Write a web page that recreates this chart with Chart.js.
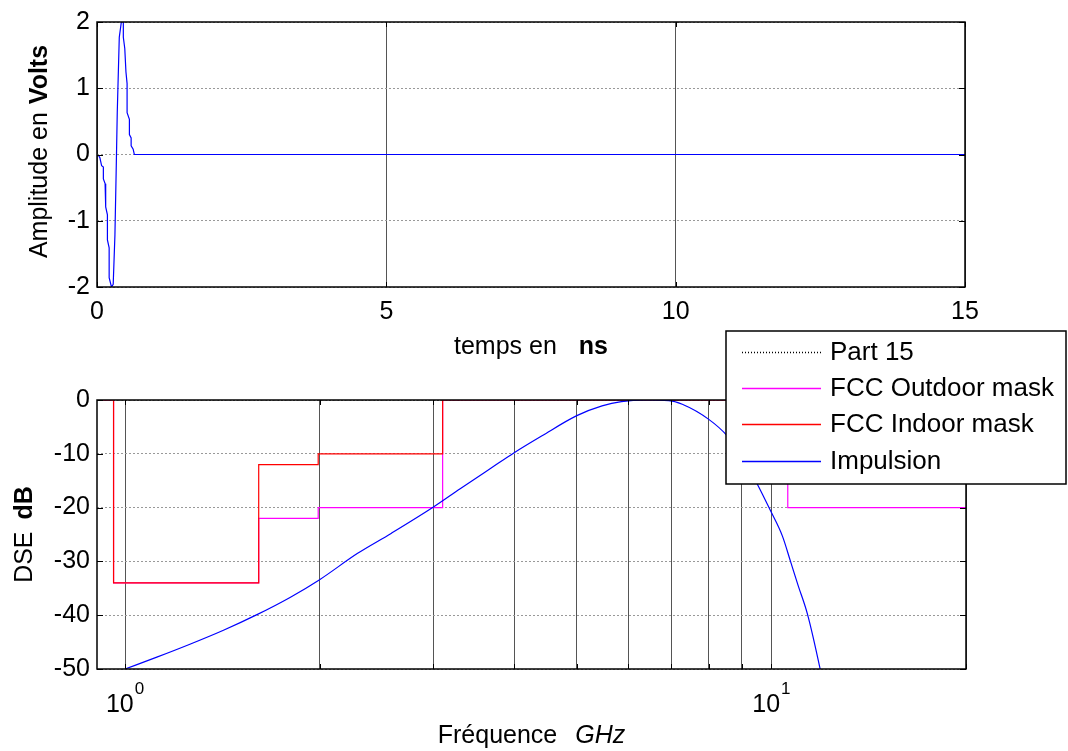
<!DOCTYPE html>
<html><head><meta charset="utf-8">
<script src="https://cdn.jsdelivr.net/npm/chart.js@4.4.1/dist/chart.umd.min.js"></script>
<style>
html,body{margin:0;padding:0;background:#fff;}
#wrap{position:relative;width:1068px;height:751px;overflow:hidden;background:#fff;}
#c1{position:absolute;left:0;top:0;}
#c2{position:absolute;left:0;top:320px;}
</style></head><body>
<div id="wrap"><canvas id="c1" width="1068" height="375"></canvas><canvas id="c2" width="1068" height="431"></canvas></div>
<script>
// ---------- data: time-domain pulse ----------
const timeNs     = [0.03, 0.05, 0.08, 0.11, 0.11, 0.14, 0.15, 0.18, 0.18, 0.21, 0.21, 0.25, 0.28, 0.31, 0.33, 0.35, 0.385, 0.43, 0.455, 0.455, 0.48, 0.50, 0.52, 0.52, 0.56, 0.56, 0.59, 0.59, 0.625, 0.645, 15];
const amplitudeV = [-0.02, -0.05, -0.17, -0.19, -0.37, -0.44, -0.79, -0.91, -1.29, -1.41, -1.86, -2.00, -1.96, -1.21, -0.31, 0.63, 1.77, 2.06, 2.06, 1.77, 1.60, 1.25, 1.07, 0.63, 0.53, 0.30, 0.25, 0.13, 0.08, 0.00, 0.00];
const timeTicks  = [0, 5, 10, 15];
const voltTicks  = [-2, -1, 0, 1, 2];

// ---------- data: spectrum and FCC masks ----------
const freqGHz   = [1.00, 1.12, 1.26, 1.42, 1.60, 1.80, 2.00, 2.29, 2.58, 3.00, 3.30, 3.69, 4.00, 4.41, 5.00, 5.47, 5.86, 6.40, 6.94, 7.28, 8.00, 8.55, 9.00, 9.45, 9.97, 10.40, 10.71, 11.00, 11.37, 11.89, 12.10];
const impulseDb = [-50.0, -47.8, -45.4, -42.8, -39.9, -36.7, -33.4, -28.5, -24.8, -19.9, -16.5, -12.6, -9.8, -6.7, -2.9, -1.1, -0.3, 0.0, -0.1, -0.8, -3.6, -6.7, -10.4, -15.0, -20.6, -25.3, -30.1, -34.5, -39.8, -49.9, -54.5];
const maskEdgesGHz = [0.90, 0.96, 1.61, 1.99, 3.10, 10.60, 20.30];
const part15Db     = [0, 0, 0, 0, 0, 0, 0];
const outdoorDb    = [0, -34, -22, -20, 0, -20, -20];
const indoorDb     = [0, -34, -12, -10, 0, -10, -10];
const freqGridGHz  = [1, 2, 3, 4, 5, 6, 7, 8, 9, 10, 20];
const freqExponentLabels = {1: '0', 10: '1'};
const dbTicks      = [0, -10, -20, -30, -40, -50];
const seriesNames  = ['Part 15', 'FCC Outdoor mask', 'FCC Indoor mask', 'Impulsion'];
const seriesColors = ['#000000', '#ff00ff', '#ff0000', '#0000ff'];

const FONT = '"Liberation Sans", Arial, sans-serif';
Chart.defaults.font.family = FONT;
Chart.defaults.color = '#000';

const pts = (xs, ys) => xs.map((x, i) => ({x: x, y: ys[i]}));
const setTicks = arr => (s => { s.ticks = arr.map(v => ({value: v})); });

function drawParts(ctx, parts, gap, cx, cy, rotated) {
  ctx.save();
  let widths = parts.map(p => { ctx.font = p.f + ' 25px ' + FONT; return ctx.measureText(p.t).width; });
  const total = widths.reduce((a, b) => a + b, 0) + gap * (parts.length - 1);
  ctx.translate(cx, cy);
  if (rotated) ctx.rotate(-Math.PI / 2);
  ctx.textBaseline = 'alphabetic';
  ctx.textAlign = 'left';
  ctx.fillStyle = '#000';
  let x = -total / 2;
  parts.forEach((p, i) => { ctx.font = p.f + ' 25px ' + FONT; ctx.fillText(p.t, x, 0); x += widths[i] + gap; });
  ctx.restore();
}

const framePlugin = {
  id: 'frame',
  afterDatasetsDraw(chart) {
    const {ctx, chartArea: a} = chart;
    const xs = chart.scales.x, ys = chart.scales.y;
    ctx.save();
    ctx.strokeStyle = '#000';
    ctx.lineWidth = 1;
    ctx.beginPath();
    xs.ticks.forEach(t => {
      const p = Math.round(xs.getPixelForValue(t.value)) + 0.5;
      ctx.moveTo(p, a.bottom); ctx.lineTo(p, a.bottom - 5);
      ctx.moveTo(p, a.top); ctx.lineTo(p, a.top + 5);
    });
    ys.ticks.forEach(t => {
      const p = Math.round(ys.getPixelForValue(t.value)) + 0.5;
      ctx.moveTo(a.left, p); ctx.lineTo(a.left + 6, p);
      ctx.moveTo(a.right, p); ctx.lineTo(a.right - 6, p);
    });
    ctx.stroke();
    ctx.lineWidth = 1.5;
    ctx.strokeRect(a.left, a.top, a.right - a.left, a.bottom - a.top);
    ctx.restore();
  }
};

const titles1 = {
  id: 'titles1',
  afterDraw(chart) {
    const {ctx, chartArea: a} = chart;
    drawParts(ctx, [{t: 'temps en', f: 'normal'}, {t: 'ns', f: 'bold'}], 22, (a.left + a.right) / 2, 354, false);
    drawParts(ctx, [{t: 'Amplitude en', f: 'normal'}, {t: 'Volts', f: 'bold'}], 8, 46.5, (a.top + a.bottom) / 2 - 3, true);
  }
};

const titles2 = {
  id: 'titles2',
  afterDraw(chart) {
    const {ctx, chartArea: a} = chart;
    drawParts(ctx, [{t: 'Fréquence', f: 'normal'}, {t: 'GHz', f: 'italic'}], 18, (a.left + a.right) / 2, 423, false);
    drawParts(ctx, [{t: 'DSE', f: 'normal'}, {t: 'dB', f: 'bold'}], 12, 31.5, (a.top + a.bottom) / 2, true);
    // log tick labels 10^n
    const xs = chart.scales.x;
    ctx.save();
    ctx.fillStyle = '#000';
    ctx.textBaseline = 'alphabetic';
    ctx.textAlign = 'left';
    freqGridGHz.forEach(v => {
      const e = freqExponentLabels[v];
      if (e === undefined) return;
      ctx.font = '25px ' + FONT;
      const w1 = ctx.measureText('10').width;
      ctx.font = '17px ' + FONT;
      const w2 = ctx.measureText(e).width;
      const x0 = xs.getPixelForValue(v) - (w1 + 1 + w2) / 2;
      ctx.font = '25px ' + FONT;
      ctx.fillText('10', x0, 392);
      ctx.font = '17px ' + FONT;
      ctx.fillText(e, x0 + w1 + 1, 374);
    });
    ctx.restore();
    // legend
    const L = 726, T = 11, R = 1066, B = 164;
    ctx.save();
    ctx.fillStyle = '#fff';
    ctx.fillRect(L, T, R - L, B - T);
    ctx.strokeStyle = '#000';
    ctx.lineWidth = 1.5;
    ctx.strokeRect(L, T, R - L, B - T);
    const rows = [31.7, 68.3, 104.3, 140.7];
    chart.data.datasets.forEach((ds, i) => {
      const y = Math.round(rows[i]) + 0.5;
      ctx.beginPath();
      ctx.strokeStyle = ds.borderColor;
      ctx.lineWidth = 1.3;
      ctx.setLineDash(ds.borderDash || []);
      ctx.moveTo(742, y); ctx.lineTo(821, y);
      ctx.stroke();
      ctx.setLineDash([]);
      ctx.fillStyle = '#000';
      ctx.font = '26px ' + FONT;
      ctx.textBaseline = 'middle';
      ctx.textAlign = 'left';
      ctx.fillText(ds.label, 830, rows[i] + 1);
    });
    ctx.restore();
  }
};

const tickFont = {family: FONT, size: 25};

new Chart(document.getElementById('c1'), {
  type: 'line',
  data: {
    datasets: [{
      label: 'Impulsion',
      data: pts(timeNs, amplitudeV),
      borderColor: '#0000ff',
      borderWidth: 1.2,
      pointRadius: 0,
      tension: 0,
      fill: false
    }]
  },
  options: {
    responsive: false, animation: false, devicePixelRatio: 1,
    layout: {padding: {top: 18, right: 103, left: 0, bottom: 0}},
    plugins: {legend: {display: false}, tooltip: {enabled: false}},
    scales: {
      x: {
        type: 'linear', min: 0, max: 15,
        afterBuildTicks: setTicks(timeTicks),
        afterFit: s => { s.height = 88; },
        ticks: {font: tickFont, color: '#000', padding: 10, autoSkip: false, maxRotation: 0},
        grid: {color: '#555', lineWidth: 1, drawTicks: false},
        border: {display: false}
      },
      y: {
        type: 'linear', min: -2, max: 2,
        afterBuildTicks: setTicks(voltTicks),
        afterFit: s => { s.width = 97; },
        ticks: {font: tickFont, color: '#000', padding: 7, autoSkip: false},
        grid: {color: '#999', lineWidth: 1, drawTicks: false},
        border: {display: false, dash: [2, 2]}
      }
    }
  },
  plugins: [framePlugin, titles1]
});

new Chart(document.getElementById('c2'), {
  type: 'line',
  data: {
    datasets: [
      {label: seriesNames[0], data: pts(maskEdgesGHz, part15Db), borderColor: seriesColors[0], borderDash: [1, 2], borderWidth: 1, stepped: 'before', pointRadius: 0, fill: false, order: 3},
      {label: seriesNames[1], data: pts(maskEdgesGHz, outdoorDb), borderColor: seriesColors[1], borderWidth: 1.2, stepped: 'before', pointRadius: 0, fill: false, order: 2},
      {label: seriesNames[2], data: pts(maskEdgesGHz, indoorDb), borderColor: seriesColors[2], borderWidth: 1.2, stepped: 'before', pointRadius: 0, fill: false, order: 1},
      {label: seriesNames[3], data: pts(freqGHz, impulseDb), borderColor: seriesColors[3], borderWidth: 1.2, cubicInterpolationMode: 'monotone', pointRadius: 0, fill: false, order: 0}
    ]
  },
  options: {
    responsive: false, animation: false, devicePixelRatio: 1,
    layout: {padding: {top: 80, right: 102, left: 0, bottom: 0}},
    plugins: {legend: {display: false}, tooltip: {enabled: false}},
    scales: {
      x: {
        type: 'logarithmic', min: 0.905, max: 20,
        afterBuildTicks: setTicks(freqGridGHz),
        afterFit: s => { s.height = 82; },
        ticks: {font: tickFont, autoSkip: false, maxRotation: 0, callback: () => ''},
        grid: {color: '#555', lineWidth: 1, drawTicks: false},
        border: {display: false}
      },
      y: {
        type: 'linear', min: -50, max: 0,
        afterBuildTicks: setTicks(dbTicks),
        afterFit: s => { s.width = 97; },
        ticks: {font: tickFont, color: '#000', padding: 7, autoSkip: false},
        grid: {color: '#999', lineWidth: 1, drawTicks: false},
        border: {display: false, dash: [2, 2]}
      }
    }
  },
  plugins: [framePlugin, titles2]
});
</script>
</body></html>
